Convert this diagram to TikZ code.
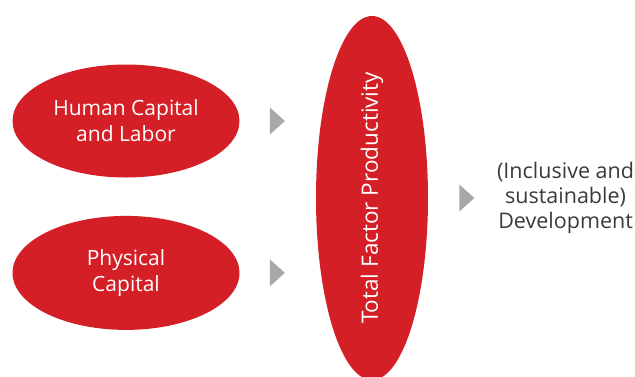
\documentclass[tikz,border=0pt]{standalone}
\usepackage{fontspec}
\setmainfont{Open Sans}
\usepackage{tikz}
\usetikzlibrary{positioning,shapes.geometric}

\definecolor{tfpred}{HTML}{D41F26}
\definecolor{arrowgray}{HTML}{A8A8A8}
\definecolor{textgray}{HTML}{3A3A3A}

\begin{document}
\begin{tikzpicture}[
        x=1pt, y=-1pt,
        node distance=38pt and 30pt,
        factor_style/.style={ellipse, fill=tfpred, draw=none, text=white, inner sep=0pt, align=center, font=\fontsize{21}{26}\selectfont},
        tri_style/.style={isosceles triangle, isosceles triangle stretches, fill=arrowgray, draw=none, inner sep=0pt, minimum width=27pt, minimum height=15pt}
    ]
    \useasboundingbox (0,0) rectangle (635,376);

    % Inputs
    \node[factor_style, minimum width=227pt, minimum height=113pt] (HC) at (126,121) {Human Capital\\and Labor};
    \node[factor_style, minimum width=227pt, minimum height=114pt, below=of HC] (PC) {Physical\\Capital};

    % Arrows to TFP
    \node[tri_style, right=30pt of HC, anchor=west] (T1) {};
    \node[tri_style, right=30pt of PC, anchor=west] (T2) {};

    % TFP
    \node[factor_style, minimum width=112pt, minimum height=364pt] (TFP) at (372,198) {};
    \node[text=white, rotate=90, font=\fontsize{22.5}{26}\selectfont, inner sep=0pt] (TFPtext) at (TFP.center) {Total Factor Productivity};

    % Arrow to development
    \node[tri_style, right=31pt of TFP, anchor=west] (T3) {};

    % Outcome
    \node[right=22pt of T3, anchor=west, text=textgray, align=center, inner sep=0pt, font=\fontsize{21.5}{25}\selectfont] (DEV) {(Inclusive and\\sustainable)\\Development};

\end{tikzpicture}
\end{document}
